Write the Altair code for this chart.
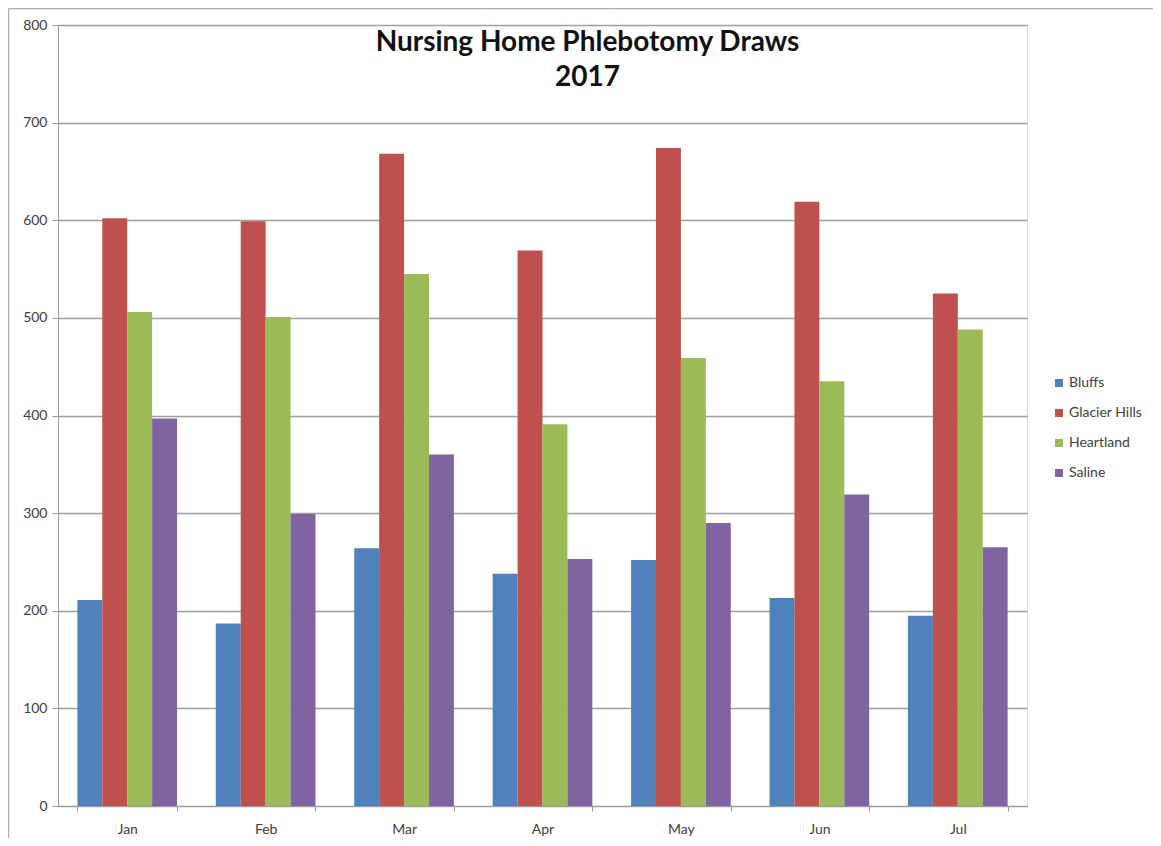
import altair as alt
import pandas as pd

months = ["Jan", "Feb", "Mar", "Apr", "May", "Jun", "Jul"]
sites = ["Bluffs", "Glacier Hills", "Heartland", "Saline"]
bluffs = [211, 187, 264, 238, 252, 213, 195]
glacier_hills = [602, 599, 668, 569, 674, 619, 525]
heartland = [506, 501, 545, 391, 459, 435, 488]
saline = [397, 299, 360, 253, 290, 319, 265]
colors = ["#4F81BD", "#C0504D", "#9BBB59", "#8064A2"]

series = {"Bluffs": bluffs, "Glacier Hills": glacier_hills,
          "Heartland": heartland, "Saline": saline}
rows = []
for s in sites:
    for m, v in zip(months, series[s]):
        rows.append({"Month": m, "Site": s, "Draws": v})
df = pd.DataFrame(rows)

FONT = "Lato"
LABEL = "#404040"

bars = alt.Chart(df).mark_bar().encode(
    x=alt.X("Month:N", sort=months, title=None,
            scale=alt.Scale(paddingInner=0.28, paddingOuter=0.14),
            axis=alt.Axis(labelAngle=0, tickBand="extent", tickSize=5,
                          tickColor="#9a9a9a", domainColor="#9a9a9a",
                          labelPadding=11, labelFontSize=14, labelColor=LABEL,
                          labelFont=FONT, grid=False)),
    xOffset=alt.XOffset("Site:N", sort=sites),
    y=alt.Y("Draws:Q", title=None,
            scale=alt.Scale(domain=[0, 800]),
            axis=alt.Axis(values=[0, 100, 200, 300, 400, 500, 600, 700, 800],
                          tickSize=6, tickColor="#9a9a9a", domainColor="#9a9a9a",
                          gridColor="#a0a0a0", gridWidth=1.3,
                          labelFontSize=14, labelColor=LABEL, labelFont=FONT,
                          labelPadding=5)),
    color=alt.Color("Site:N", sort=sites,
                    scale=alt.Scale(domain=sites, range=colors),
                    legend=alt.Legend(title=None, orient="none", legendX=994, legendY=351,
                                      symbolType="square", symbolSize=64,
                                      symbolStrokeWidth=0, rowPadding=16,
                                      labelFontSize=14, labelColor=LABEL,
                                      labelFont=FONT, labelOffset=3)),
)

frame = pd.DataFrame({"a": [0]})
top_line = alt.Chart(frame).mark_rule(stroke="#b0b0b0", strokeWidth=1.5, clip=False).encode(
    x=alt.value(-49.5), x2=alt.value(1300), y=alt.value(-16.5))
left_line = alt.Chart(frame).mark_rule(stroke="#b0b0b0", strokeWidth=1.5, clip=False).encode(
    x=alt.value(-49.5), y=alt.value(-16.5), y2=alt.value(900))

chart = alt.layer(top_line, left_line, bars).properties(
    width=969, height=781,
    title=alt.TitleParams(text=["Nursing Home Phlebotomy Draws", "2017"],
                          anchor="middle", font=FONT, fontSize=28, fontWeight="bold",
                          color="#111111", lineHeight=35, offset=-84, dx=45),
    autosize=alt.AutoSizeParams(type="none"),
    padding={"left": 50, "top": 17, "right": 126, "bottom": 32},
).configure_view(stroke=None).configure(background="white")

chart.save("out.html", embed_options={"renderer": "svg", "actions": False})
